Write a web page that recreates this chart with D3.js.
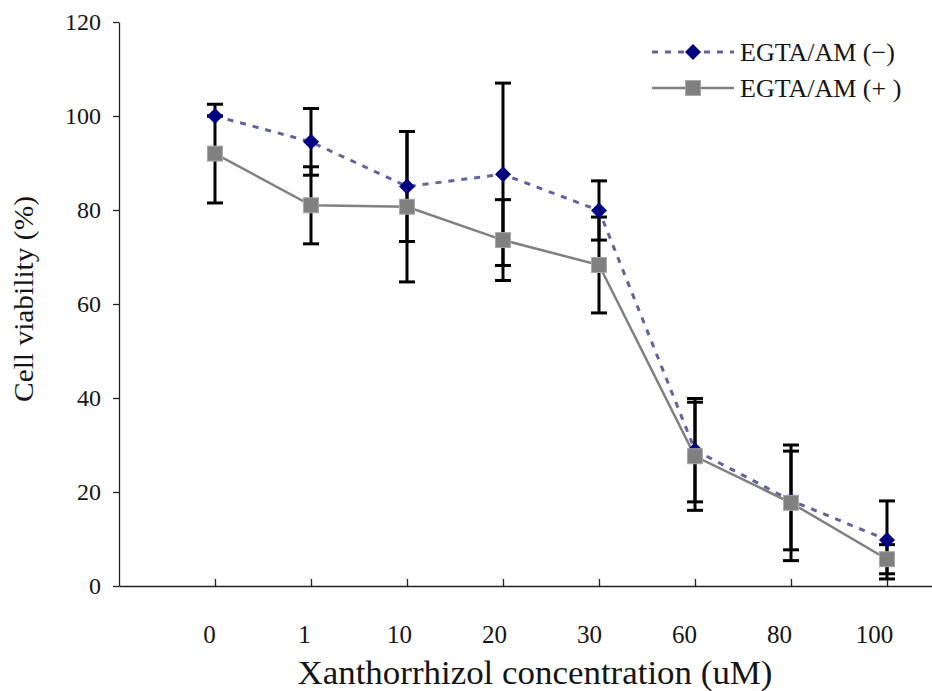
<!DOCTYPE html>
<html>
<head>
<meta charset="utf-8">
<script src="https://cdn.jsdelivr.net/npm/d3@7"></script>
<style>
  body { margin: 0; background: #fff; }
  svg text { font-family: "Liberation Serif", "DejaVu Serif", serif; fill: #151515; }
</style>
</head>
<body>
<div id="chart"></div>
<script>
// concentrations (category labels), uM
const concentrations = ["0", "1", "10", "20", "30", "60", "80", "100"];
// EGTA/AM (-) : mean viability and error
const minusMean = [100.0, 94.5, 85.0, 87.6, 79.9, 28.9, 18.2, 9.8];
const minusErr  = [0.0, 7.1, 11.7, 19.4, 6.3, 11.0, 10.5, 8.3];
// EGTA/AM (+) : mean viability and error
const plusMean  = [92.0, 81.0, 80.7, 73.6, 68.3, 27.6, 17.7, 5.7];
const plusErr   = [10.5, 8.2, 16.0, 8.6, 10.2, 11.5, 12.3, 3.1];
const yTicks = [0, 20, 40, 60, 80, 100, 120];

const width = 932, height = 691;
const serif = "'Liberation Serif', 'DejaVu Serif', serif";

const svg = d3.select("#chart").append("svg")
  .attr("width", width).attr("height", height);

// category index -> x; first category sits one step in from the axis
const x = d3.scaleLinear().domain([-1, 8]).range([119, 983]);
// labels are set a little left of their ticks
const xLab = d3.scaleLinear().domain([0, 7]).range([209, 874]);
const y = d3.scaleLinear().domain([0, 120]).range([586, 22]);

const idx = d3.range(concentrations.length);

// AXES
const yAxis = svg.append("g")
  .attr("transform", "translate(119,0)")
  .call(d3.axisLeft(y).tickValues(yTicks).tickSize(6).tickSizeOuter(0).tickPadding(12));
yAxis.attr("font-family", serif).attr("font-size", 24);
yAxis.select(".domain").attr("stroke", "#222").attr("stroke-width", 1.3);
yAxis.selectAll(".tick line").attr("stroke", "#222").attr("stroke-width", 1.3);

const xAxis = svg.append("g")
  .attr("transform", "translate(0,586)")
  .call(d3.axisBottom(x).tickValues(idx).tickSizeInner(-7).tickSizeOuter(0).tickFormat(""));
xAxis.select(".domain").attr("stroke", "#222").attr("stroke-width", 1.3);
xAxis.selectAll(".tick line").attr("stroke", "#222").attr("stroke-width", 1.3);

const xLabels = svg.append("g")
  .attr("transform", "translate(0,625)")
  .call(d3.axisBottom(xLab).tickValues(idx).tickSize(0).tickPadding(0)
    .tickFormat(i => concentrations[i]));
xLabels.attr("font-family", serif).attr("font-size", 25);
xLabels.select(".domain").remove();
xLabels.selectAll("text").attr("dy", "0.71em");

// AXIS TITLES
svg.append("text")
  .attr("x", 535).attr("y", 684)
  .attr("text-anchor", "middle")
  .attr("textLength", 475).attr("lengthAdjust", "spacingAndGlyphs")
  .style("font-size", "33px")
  .text("Xanthorrhizol concentration (uM)");

svg.append("text")
  .attr("transform", "rotate(-90)")
  .attr("x", -299).attr("y", 33)
  .attr("text-anchor", "middle")
  .attr("textLength", 206).attr("lengthAdjust", "spacingAndGlyphs")
  .style("font-size", "27px")
  .text("Cell viability (%)");

// LINES
const minusColor = "#62629f", plusColor = "#808080";

svg.append("path")
  .datum(idx)
  .attr("fill", "none").attr("stroke", plusColor).attr("stroke-width", 2.5)
  .attr("d", d3.line().x(i => x(i)).y(i => y(plusMean[i])));

svg.append("path")
  .datum(idx)
  .attr("fill", "none").attr("stroke", minusColor).attr("stroke-width", 3)
  .attr("stroke-dasharray", "6,7")
  .attr("d", d3.line().x(i => x(i)).y(i => y(minusMean[i])));

// ERROR BARS
function errorBars(mean, err) {
  const g = svg.append("g").attr("stroke", "#000").attr("stroke-width", 3);
  g.selectAll(".v").data(idx).join("line")
    .attr("x1", i => x(i)).attr("x2", i => x(i))
    .attr("y1", i => y(mean[i] + err[i])).attr("y2", i => y(mean[i] - err[i]));
  g.selectAll(".top").data(idx).join("line")
    .attr("x1", i => x(i) - 8).attr("x2", i => x(i) + 8)
    .attr("y1", i => y(mean[i] + err[i])).attr("y2", i => y(mean[i] + err[i]));
  g.selectAll(".bot").data(idx).join("line")
    .attr("x1", i => x(i) - 8).attr("x2", i => x(i) + 8)
    .attr("y1", i => y(mean[i] - err[i])).attr("y2", i => y(mean[i] - err[i]));
}
errorBars(minusMean, minusErr);
errorBars(plusMean, plusErr);

// MARKERS
const diamond = d3.symbol(d3.symbolSquare, 128)();
svg.append("g").selectAll("path").data(idx).join("path")
  .attr("d", diamond)
  .attr("transform", i => `translate(${x(i)},${y(minusMean[i])}) rotate(45)`)
  .attr("fill", "#000080");

svg.append("g").selectAll("rect").data(idx).join("rect")
  .attr("x", i => x(i) - 7.5).attr("y", i => y(plusMean[i]) - 7.5)
  .attr("width", 15).attr("height", 15)
  .attr("fill", "#808080").attr("stroke", "#a8a8a8").attr("stroke-width", 1);

// LEGEND
const legend = svg.append("g");
legend.append("line")
  .attr("x1", 652).attr("x2", 734).attr("y1", 52).attr("y2", 52)
  .attr("stroke", minusColor).attr("stroke-width", 3).attr("stroke-dasharray", "6,7");
legend.append("path").attr("d", diamond)
  .attr("transform", "translate(693,52) rotate(45)").attr("fill", "#000080");
legend.append("text").attr("x", 740).attr("y", 61)
  .style("font-size", "26px").text("EGTA/AM (\u2212)");

legend.append("line")
  .attr("x1", 652).attr("x2", 734).attr("y1", 88).attr("y2", 88)
  .attr("stroke", plusColor).attr("stroke-width", 2.5);
legend.append("rect").attr("x", 685.5).attr("y", 80.5).attr("width", 15).attr("height", 15)
  .attr("fill", "#808080").attr("stroke", "#a8a8a8").attr("stroke-width", 1);
legend.append("text").attr("x", 740).attr("y", 97)
  .style("font-size", "26px").text("EGTA/AM (+ )");
</script>
</body>
</html>
